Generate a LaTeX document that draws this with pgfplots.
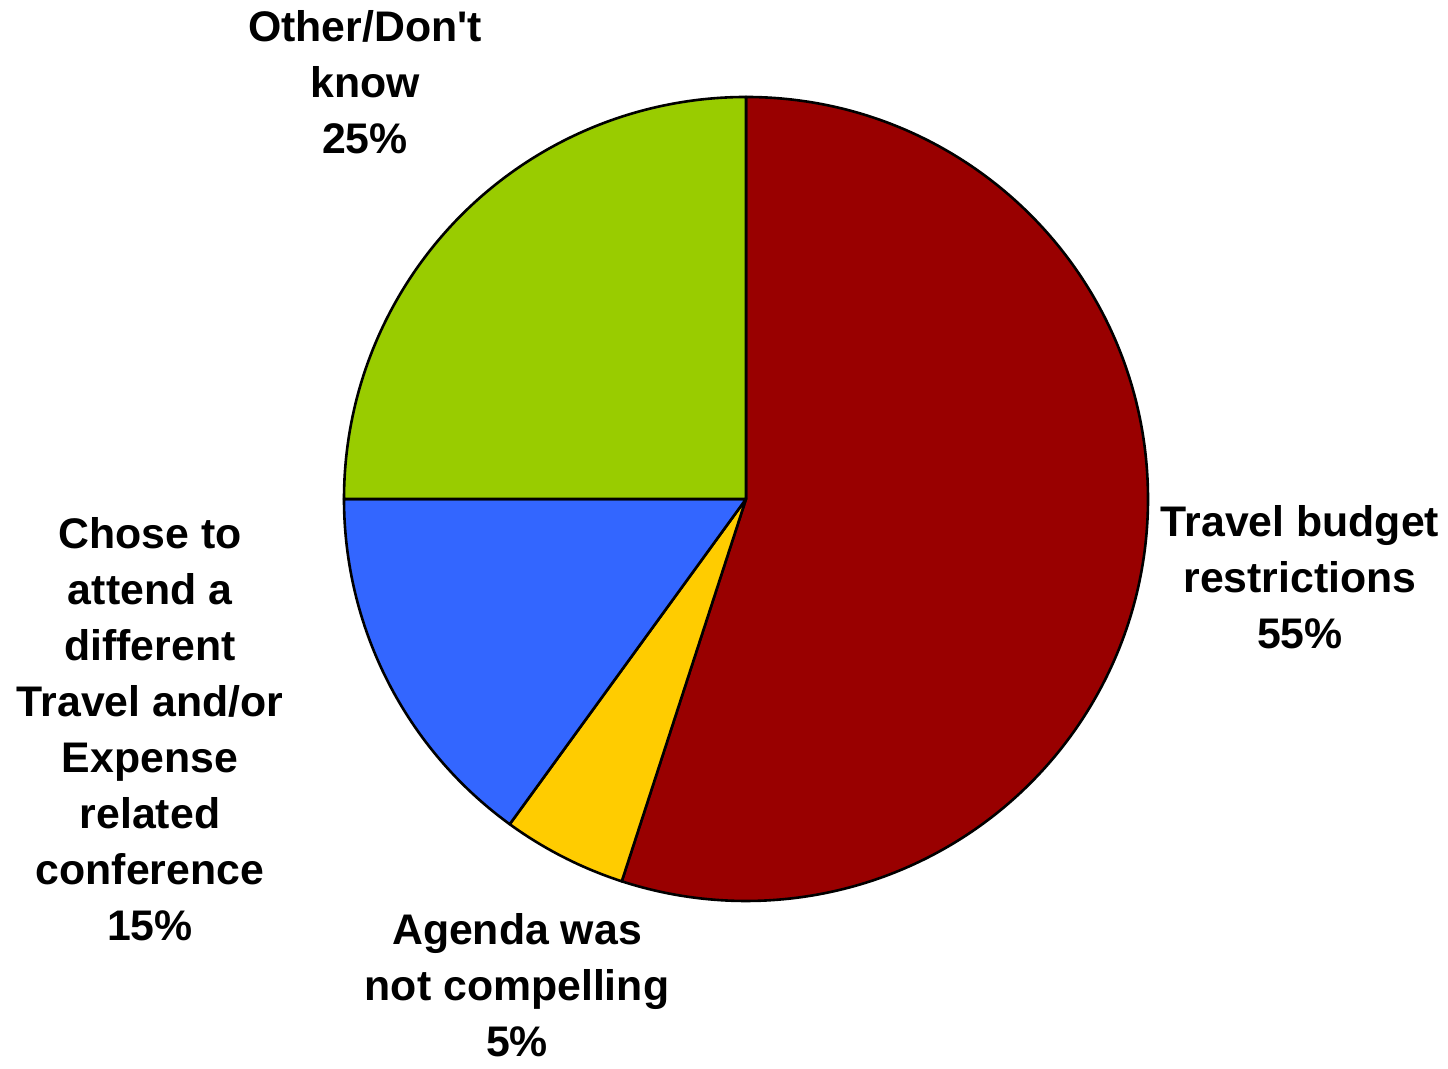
\documentclass[border=0pt]{standalone}
\usepackage{pgfplots}
\pgfplotsset{compat=1.18}
\usepackage{fontspec}
\setmainfont{Liberation Sans}
\definecolor{cTravel}{HTML}{990000}
\definecolor{cAgenda}{HTML}{FFCC00}
\definecolor{cChose}{HTML}{3366FF}
\definecolor{cOther}{HTML}{99CC00}
\tikzset{lbl/.style={font=\fontsize{21.4}{28}\selectfont\bfseries, align=center, inner sep=0pt}}
\begin{document}
\begin{tikzpicture}
\begin{axis}[
  scale only axis, width=724pt, height=534.5pt,
  xmin=-746, xmax=702, ymin=-570, ymax=499,
  hide axis, clip=false,
]
% values (percent): Travel 55, Agenda 5, Chose 15, Other 25 -- clockwise from 12 o'clock
\pgfmathsetmacro{\aA}{90}
\pgfmathsetmacro{\aB}{90-3.6*55}
\pgfmathsetmacro{\aC}{\aB-3.6*5}
\pgfmathsetmacro{\aD}{\aC-3.6*15}
\pgfmathsetmacro{\aE}{\aD-3.6*25}
\addplot[draw=none] coordinates {(-746,-570) (702,499)};
\filldraw[fill=cTravel, draw=black, line width=1.3pt, line join=round]
  (axis cs:0,0) -- (axis cs:{402*cos(\aA)},{402*sin(\aA)}) arc[start angle=\aA, end angle=\aB, radius=201pt] -- cycle;
\filldraw[fill=cAgenda, draw=black, line width=1.3pt, line join=round]
  (axis cs:0,0) -- (axis cs:{402*cos(\aB)},{402*sin(\aB)}) arc[start angle=\aB, end angle=\aC, radius=201pt] -- cycle;
\filldraw[fill=cChose, draw=black, line width=1.3pt, line join=round]
  (axis cs:0,0) -- (axis cs:{402*cos(\aC)},{402*sin(\aC)}) arc[start angle=\aC, end angle=\aD, radius=201pt] -- cycle;
\filldraw[fill=cOther, draw=black, line width=1.3pt, line join=round]
  (axis cs:0,0) -- (axis cs:{402*cos(\aD)},{402*sin(\aD)}) arc[start angle=\aD, end angle=\aE, radius=201pt] -- cycle;
\node[lbl] at (axis cs:554,-78) {Travel budget\\restrictions\\55\%};
\node[lbl] at (axis cs:-381,417) {Other/Don\textquotesingle t\\know\\25\%};
\node[lbl] at (axis cs:-596,-230) {Chose to\\attend a\\different\\Travel and/or\\Expense\\related\\conference\\15\%};
\node[lbl] at (axis cs:-229,-486) {Agenda was\\not compelling\\5\%};
\end{axis}
\end{tikzpicture}
\end{document}
